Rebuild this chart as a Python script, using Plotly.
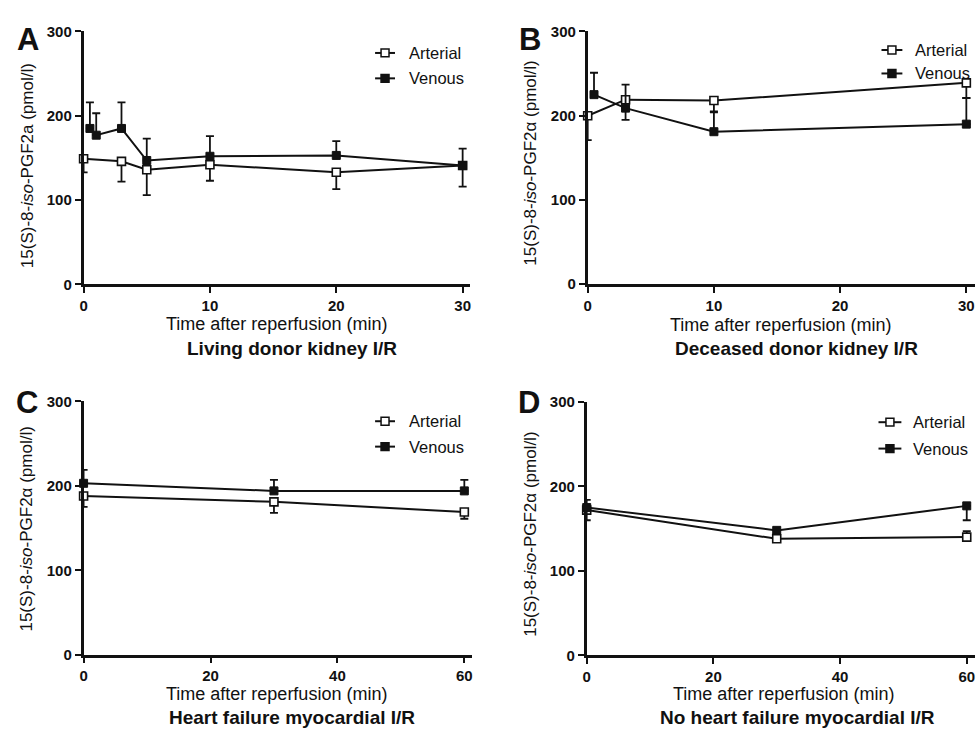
import plotly.graph_objects as go
from plotly.subplots import make_subplots

# ---- data: 15(S)-8-iso-PGF2a (pmol/l), mean with one-sided error ----
# A: living donor kidney I/R
A_art_t = [0, 3, 5, 10, 20, 30]
A_art_y = [149, 146, 136, 142, 133, 141]
A_art_err = [16, 24, 30, 19, 20, 25]
A_ven_t = [0.5, 1, 3, 5, 10, 20, 30]
A_ven_y = [185, 177, 185, 147, 152, 153, 141]
A_ven_err = [31, 26, 31, 26, 24, 17, 20]

# B: deceased donor kidney I/R
B_art_t = [0, 3, 10, 30]
B_art_y = [200, 219, 218, 239]
B_art_err = [29, 24, 13, 18]
B_ven_t = [0.5, 3, 10, 30]
B_ven_y = [225, 209, 181, 190]
B_ven_err = [26, 28, 23, 31]

# C: heart failure myocardial I/R
C_t = [0, 30, 60]
C_art_y = [188, 181, 169]
C_art_err = [13, 13, 8]
C_ven_y = [203, 194, 194]
C_ven_err = [16, 13, 13]

# D: no heart failure myocardial I/R
D_t = [0, 30, 60]
D_art_y = [172, 138, 140]
D_art_err = [12, 4, 7]
D_ven_y = [175, 148, 177]
D_ven_err = [15, 4, 17]

series_names = ["Arterial", "Venous"]
y_ticks = [0, 100, 200, 300]
x_ticks_kidney = [0, 10, 20, 30]
x_ticks_heart = [0, 20, 40, 60]
x_title = "Time after reperfusion (min)"
subtitles = ["Living donor kidney I/R", "Deceased donor kidney I/R",
             "Heart failure myocardial I/R", "No heart failure myocardial I/R"]
panel_letters = ["A", "B", "C", "D"]
y_titles = ["15(S)-8-<i>iso</i>-PGF2a (pmol/l)",
            "15(S)-8-<i>iso</i>-PGF2α (pmol/l)",
            "15(S)-8-<i>iso</i>-PGF2α (pmol/l)",
            "15(S)-8-<i>iso</i>-PGF2α (pmol/l)"]

W, H = 976, 734
FONT = "Liberation Sans, Arial, sans-serif"
INK = "#111111"


def px(x):
    return x / W


def py(y):
    return 1 - y / H


fig = make_subplots(rows=2, cols=2)


def err(values, up):
    zeros = [0] * len(values)
    return dict(type="data", symmetric=False,
                array=values if up else zeros,
                arrayminus=zeros if up else values,
                color=INK, thickness=1.8, width=4)


def add_pair(row, col, at, ay, aerr, vt, vy, verr, art_up):
    fig.add_trace(go.Scatter(
        x=at, y=ay, mode="lines+markers", name=series_names[0],
        line=dict(color=INK, width=2),
        marker=dict(symbol="square", size=8, color="white",
                    line=dict(color=INK, width=1.6)),
        error_y=err(aerr, art_up), cliponaxis=False, showlegend=False),
        row=row, col=col)
    fig.add_trace(go.Scatter(
        x=vt, y=vy, mode="lines+markers", name=series_names[1],
        line=dict(color=INK, width=2),
        marker=dict(symbol="square", size=8, color=INK,
                    line=dict(color=INK, width=1)),
        error_y=err(verr, not art_up), cliponaxis=False, showlegend=False),
        row=row, col=col)


add_pair(1, 1, A_art_t, A_art_y, A_art_err, A_ven_t, A_ven_y, A_ven_err, False)
add_pair(1, 2, B_art_t, B_art_y, B_art_err, B_ven_t, B_ven_y, B_ven_err, False)
add_pair(2, 1, C_t, C_art_y, C_art_err, C_t, C_ven_y, C_ven_err, False)
add_pair(2, 2, D_t, D_art_y, D_art_err, D_t, D_ven_y, D_ven_err, True)

# axis placement (pixel geometry of each panel)
panels = [
    dict(x0=80, x1=468, ytop=23, ybot=282, tv=30, tp=461, ticks=x_ticks_kidney),
    dict(x0=586.7, x1=976, ytop=23, ybot=281.7, tv=30, tp=967.3, ticks=x_ticks_kidney),
    dict(x0=80, x1=470, ytop=401.7, ybot=661, tv=60, tp=462.7, ticks=x_ticks_heart),
    dict(x0=585.7, x1=976, ytop=402.3, ybot=661.7, tv=60, tp=967.7, ticks=x_ticks_heart),
]

axis_common = dict(showgrid=False, zeroline=False, showline=True,
                   linecolor=INK, linewidth=2.6, ticks="outside",
                   ticklen=6, tickwidth=2.2, tickcolor=INK,
                   tickfont=dict(family=FONT, size=15, color=INK, weight="bold"))

for i, p in enumerate(panels):
    suffix = "" if i == 0 else str(i + 1)
    xmax = p["tv"] * (p["x1"] - p["x0"]) / (p["tp"] - p["x0"])
    fig.layout["xaxis" + suffix].update(
        domain=[px(p["x0"]), px(p["x1"])], range=[0, xmax],
        tickvals=p["ticks"], **axis_common)
    fig.layout["yaxis" + suffix].update(
        domain=[py(p["ybot"]), py(p["ytop"])], range=[0, 300],
        tickvals=y_ticks, **axis_common)

annotations = []


def text(x, y, s, size, bold=False, angle=0, xanchor="center"):
    annotations.append(dict(
        x=px(x), y=py(y), xref="paper", yref="paper", text=s,
        showarrow=False, textangle=angle, xanchor=xanchor, yanchor="middle",
        font=dict(family=FONT, size=size, color=INK,
                  weight="bold" if bold else "normal")))


# panel letters
for (lx, ly), letter in zip([(24, 31), (529, 31), (23, 403), (528, 403)], panel_letters):
    text(lx, ly, letter, 31, bold=True)

# y-axis titles
for (tx, ty), t in zip([(23, 160), (529, 158), (23, 532), (529, 538)], y_titles):
    text(tx, ty, t, 17, angle=-90)

# x-axis titles and panel captions
for (tx, ty), (cx, cy), cap in zip(
        [(274, 322), (781, 323), (274, 701), (784, 701)],
        [(289, 348), (797, 348), (289, 725), (798, 725)], subtitles):
    text(tx, ty, x_title, 18)
    text(cx, cy, cap, 19, bold=True)

# per-panel key: sample line, square marker, label
shapes = []
keys = [
    dict(sx0=373, sx1=393, ya=45, yv=71, tx=405),
    dict(sx0=882, sx1=903, ya=42, yv=66, tx=914),
    dict(sx0=373, sx1=393, ya=422, yv=448, tx=405),
    dict(sx0=879, sx1=902, ya=423, yv=450, tx=912),
]
for k in keys:
    for yy, fill, name in [(k["ya"], "white", series_names[0]),
                           (k["yv"], INK, series_names[1])]:
        shapes.append(dict(type="line", xref="paper", yref="paper",
                           x0=px(k["sx0"]), x1=px(k["sx1"]), y0=py(yy), y1=py(yy),
                           line=dict(color=INK, width=2)))
        cx = (k["sx0"] + k["sx1"]) / 2
        shapes.append(dict(type="rect", xref="paper", yref="paper",
                           x0=px(cx - 4), x1=px(cx + 4), y0=py(yy - 4), y1=py(yy + 4),
                           fillcolor=fill, line=dict(color=INK, width=1.5)))
        text(k["tx"], yy, name, 16.5, xanchor="left")

fig.update_layout(
    width=W, height=H, margin=dict(l=0, r=0, t=0, b=0),
    paper_bgcolor="white", plot_bgcolor="white",
    showlegend=False, annotations=annotations, shapes=shapes,
    font=dict(family=FONT, color=INK),
)

fig.write_html("out.html")
